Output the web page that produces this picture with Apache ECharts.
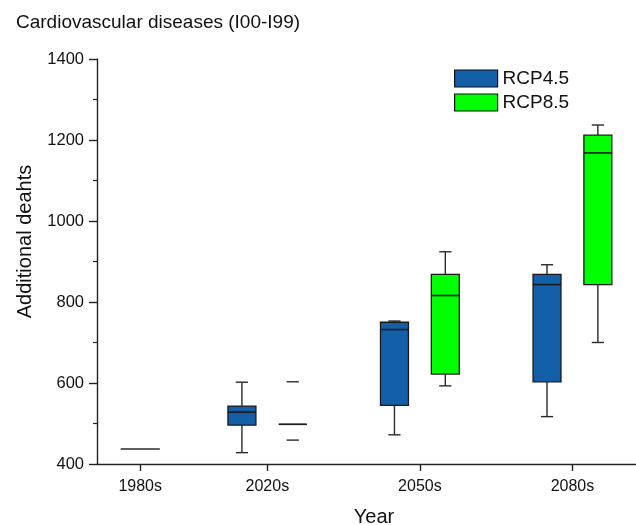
<!DOCTYPE html>
<html>
<head>
<meta charset="utf-8">
<script src="https://cdn.jsdelivr.net/npm/echarts@6/dist/echarts.min.js"></script>
<style>
html,body{margin:0;padding:0;background:#fff;}
#chart{width:636px;height:525px;}
</style>
</head>
<body>
<div id="chart"></div>
<script>
// ---- data ----
const categories = ['1980s', '2020s', '2050s', '2080s'];
const baseline1980s = 437;
// per decade (2020s, 2050s, 2080s): whisker low, Q1, median, Q3, whisker high
const rcp45Box = [[428, 496, 528, 543, 602], [472, 545, 732, 750, 753], [517, 603, 843, 868, 892]];
const rcp45Min = [428, 472, 517];
const rcp45Max = [602, 753, 892];
const rcp85Box = [[498, 498, 498, 498, 498], [593, 622, 816, 868, 924], [700, 843, 1168, 1212, 1237]];
const rcp85Min = [459, 593, 700];
const rcp85Max = [603, 924, 1237];
const scenarioDecades = ['2020s', '2050s', '2080s'];

// ---- layout (x slots on the value axis) ----
const groupCenter = [1, 3.5, 6.5, 9.5];
const pairOffset = 0.5;
const BOX_W = 0.55, CAP_W = 0.24, BASE_W = 0.77;

function buildData(box, mn, mx, sign) {
  return scenarioDecades.map((d, i) => {
    const c = groupCenter[categories.indexOf(d)] + sign * pairOffset;
    return [c].concat(box[i], [mn[i], mx[i]]);
  });
}

function renderBox(params, api) {
  const x = api.value(0);
  const lo = api.value(1), q1 = api.value(2), med = api.value(3), q3 = api.value(4), hi = api.value(5);
  const mn = api.value(6), mx = api.value(7);
  const bw = api.size([BOX_W, 0])[0];
  const cw = api.size([CAP_W, 0])[0];
  const P = v => api.coord([x, v]);
  const pLo = P(lo), pQ1 = P(q1), pMed = P(med), pQ3 = P(q3), pHi = P(hi), pMn = P(mn), pMx = P(mx);
  const cx = pMed[0];
  const lineStyle = { stroke: '#2a2a2a', lineWidth: 1.4 };
  const children = [];
  if (Math.abs(pLo[1] - pQ1[1]) > 0.5)
    children.push({ type: 'line', shape: { x1: cx, y1: pLo[1], x2: cx, y2: pQ1[1] }, style: lineStyle });
  if (Math.abs(pHi[1] - pQ3[1]) > 0.5)
    children.push({ type: 'line', shape: { x1: cx, y1: pQ3[1], x2: cx, y2: pHi[1] }, style: lineStyle });
  children.push({ type: 'line', shape: { x1: cx - cw / 2, y1: pMn[1], x2: cx + cw / 2, y2: pMn[1] }, style: lineStyle });
  children.push({ type: 'line', shape: { x1: cx - cw / 2, y1: pMx[1], x2: cx + cw / 2, y2: pMx[1] }, style: lineStyle });
  children.push({
    type: 'rect',
    shape: { x: cx - bw / 2, y: pQ3[1], width: bw, height: pQ1[1] - pQ3[1] },
    style: { fill: api.visual('color'), stroke: '#1a1a1a', lineWidth: 1.3 }
  });
  children.push({ type: 'line', shape: { x1: cx - bw / 2, y1: pMed[1], x2: cx + bw / 2, y2: pMed[1] }, style: { stroke: '#1a1a1a', lineWidth: 1.6 } });
  return { type: 'group', children };
}

function renderBaseline(params, api) {
  const p = api.coord([api.value(0), api.value(1)]);
  const w = api.size([BASE_W, 0])[0];
  return { type: 'line', shape: { x1: p[0] - w / 2, y1: p[1], x2: p[0] + w / 2, y2: p[1] }, style: { stroke: '#2a2a2a', lineWidth: 1.5 } };
}

const chart = echarts.init(document.getElementById('chart'), null, { renderer: 'canvas' });
const font = 'Liberation Sans, Arial, Helvetica, sans-serif';
chart.setOption({
  animation: false,
  backgroundColor: '#fff',
  textStyle: { fontFamily: font },
  title: {
    text: 'Cardiovascular diseases (I00-I99)',
    left: 11, top: 8,
    textStyle: { fontSize: 19, fontWeight: 'normal', color: '#111', fontFamily: font }
  },
  legend: {
    orient: 'vertical',
    left: 454, top: 69,
    padding: 0,
    itemWidth: 43, itemHeight: 17, itemGap: 5,
    icon: 'rect',
    textStyle: { fontSize: 19, color: '#111', fontFamily: font },
    data: [
      { name: 'RCP4.5', itemStyle: { borderColor: '#111', borderWidth: 1.2 } },
      { name: 'RCP8.5', itemStyle: { borderColor: '#111', borderWidth: 1.2 } }
    ]
  },
  grid: { left: 97, right: 0, top: 59, bottom: 61, containLabel: false, outerBoundsMode: 'none' },
  xAxis: {
    type: 'value',
    min: 0.15, max: 10.75,
    splitLine: { show: false },
    axisLine: { show: true, lineStyle: { color: '#222', width: 1.4 } },
    axisTick: { show: true, customValues: groupCenter, length: 7, lineStyle: { color: '#222', width: 1.4 } },
    axisLabel: {
      customValues: groupCenter,
      formatter: v => categories[groupCenter.indexOf(v)] || '',
      fontSize: 16, color: '#111', margin: 15, fontFamily: font
    },
    name: 'Year',
    nameLocation: 'middle',
    nameGap: 43,
    nameTextStyle: { fontSize: 20, color: '#111', padding: [0, 0, 0, 15], fontFamily: font }
  },
  yAxis: {
    type: 'value',
    min: 400, max: 1400, interval: 200,
    splitLine: { show: false },
    axisLine: { show: true, lineStyle: { color: '#222', width: 1.4 } },
    axisTick: { show: true, length: 8, lineStyle: { color: '#222', width: 1.4 } },
    minorTick: { show: true, splitNumber: 2, length: 4, lineStyle: { color: '#222', width: 1.2 } },
    axisLabel: { fontSize: 16.5, color: '#111', margin: 13, fontFamily: font, formatter: v => String(v) },
    name: 'Additional deahts',
    nameLocation: 'middle',
    nameGap: 62,
    nameTextStyle: { fontSize: 20, color: '#111', padding: [0, 0, 0, 40], fontFamily: font }
  },
  series: [
    {
      name: 'baseline',
      type: 'custom',
      renderItem: renderBaseline,
      encode: { x: 0, y: 1 },
      data: [[groupCenter[0], baseline1980s]],
      silent: true
    },
    {
      name: 'RCP4.5',
      type: 'custom',
      renderItem: renderBox,
      itemStyle: { color: '#1360a8' },
      encode: { x: 0, y: [1, 2, 3, 4, 5, 6, 7] },
      data: buildData(rcp45Box, rcp45Min, rcp45Max, -1)
    },
    {
      name: 'RCP8.5',
      type: 'custom',
      renderItem: renderBox,
      itemStyle: { color: '#00ff00' },
      encode: { x: 0, y: [1, 2, 3, 4, 5, 6, 7] },
      data: buildData(rcp85Box, rcp85Min, rcp85Max, 1)
    }
  ]
});
</script>
</body>
</html>
